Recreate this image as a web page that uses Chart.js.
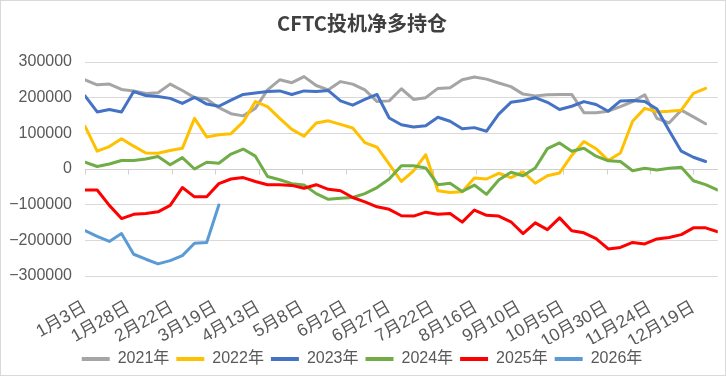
<!DOCTYPE html>
<html>
<head>
<meta charset="utf-8">
<script src="https://cdn.jsdelivr.net/npm/chart.js@4.4.1/dist/chart.umd.min.js"></script>
<style>
html,body{margin:0;padding:0;background:#fff}
#wrap{width:726px;height:376px;box-sizing:border-box;border:1px solid #d9d9d9}
canvas{display:block}
</style>
</head>
<body>
<div id="wrap"><canvas id="c" width="724" height="374"></canvas></div>
<script>
// weekly net long positions, week index 0 = Jan 3
const tickLabels = ["1月3日","1月28日","2月22日","3月19日","4月13日","5月8日","6月2日","6月27日","7月22日","8月16日","9月10日","10月5日","10月30日","11月24日","12月19日"];
const TICK_DAYS = 25;
const seriesNames = ["2021年","2022年","2023年","2024年","2025年","2026年"];
const seriesColors = ["#a5a5a5","#ffc000","#4472c4","#70ad47","#ff0000","#5b9bd5"];

const y2021 = [250000,236000,238000,223000,219000,212000,214000,238000,220000,200000,196000,172000,155000,149000,
  170000,222000,250000,242000,259000,234000,222000,245000,238000,222000,189000,191000,225000,
  195000,200000,226000,228000,250000,258000,252000,241000,231000,210000,205000,208000,
  209000,209000,158000,158000,162000,175000,189000,208000,142000,129000,165000,146000,127000];
const y2022 = [120000,50000,63000,85000,64000,45000,44000,52000,58000,142000,90000,96000,99000,132000,
  189000,175000,142000,111000,92000,129000,135000,125000,115000,74000,61000,14000,-35000,
  -5000,40000,-61000,-66000,-64000,-25000,-28000,-12000,-24000,-8000,-40000,-19000,
  -11000,38000,77000,57000,24000,45000,134000,170000,160000,162000,165000,212000,226000];
const y2023 = [205000,160000,167000,160000,217000,206000,203000,198000,184000,201000,182000,176000,193000,209000,
  213000,217000,219000,209000,219000,217000,220000,191000,179000,195000,209000,143000,124000,
  118000,121000,145000,134000,113000,116000,106000,154000,187000,192000,200000,187000,
  167000,176000,189000,181000,162000,191000,192000,189000,168000,108000,50000,33000,21000];
const y2024 = [19000,7000,14000,24000,24000,28000,35000,12000,32000,0,19000,16000,42000,56000,
  36000,-21000,-30000,-41000,-45000,-69000,-85000,-82000,-80000,-69000,-52000,-28000,9000,
  9000,3000,-44000,-40000,-63000,-45000,-71000,-31000,-9000,-19000,3000,57000,
  73000,50000,58000,36000,23000,21000,-5000,2000,-3000,2000,5000,-33000,-44000,-59000];
const y2025 = [-59000,-59000,-102000,-139000,-127000,-125000,-120000,-102000,-52000,-78000,-78000,-41000,-28000,-24000,
  -35000,-44000,-44000,-46000,-54000,-44000,-57000,-61000,-80000,-92000,-106000,-113000,-131000,
  -132000,-121000,-127000,-125000,-149000,-115000,-130000,-132000,-148000,-181000,-151000,-170000,
  -137000,-173000,-179000,-195000,-224000,-220000,-206000,-210000,-196000,-192000,-184000,-165000,-165000,-176000];
const y2026 = [-173000,-189000,-203000,-181000,-239000,-253000,-266000,-257000,-243000,-208000,-206000,-101000];

const allSeries = [y2021,y2022,y2023,y2024,y2025,y2026];
const FONT = '"Liberation Sans", "Noto Sans CJK SC", sans-serif';

const zeroAxis = {
  id:"zeroAxis",
  beforeDatasetsDraw(chart){
    const {ctx, chartArea:a, scales:{x,y}} = chart;
    const y0 = Math.round(y.getPixelForValue(0))+0.5;
    ctx.save(); ctx.strokeStyle="#cfcfcf"; ctx.lineWidth=1; ctx.beginPath();
    ctx.moveTo(a.left,y0); ctx.lineTo(a.right,y0);
    x.ticks.forEach(t=>{const px=Math.round(x.getPixelForValue(t.value))+0.5; ctx.moveTo(px,y0); ctx.lineTo(px,y0+5);});
    ctx.stroke(); ctx.restore();
  }
};

new Chart(document.getElementById("c"), {
  type:"line",
  data:{ datasets: allSeries.map((s,k)=>({
    label: seriesNames[k], data: s.map((v,i)=>({x:i,y:v})),
    borderColor: seriesColors[k], backgroundColor: seriesColors[k],
    borderWidth:3, pointRadius:0, tension:0, fill:false,
    borderJoinStyle:"round", borderCapStyle:"round", order: allSeries.length-k
  }))},
  options:{
    responsive:false, animation:false,
    layout:{padding:{left:0,right:2,top:0,bottom:-2}},
    plugins:{
      tooltip:{enabled:false},
      title:{display:true, text:"CFTC投机净多持仓", color:"#404040",
        font:{size:20, weight:"bold", family:'"Noto Sans CJK SC", sans-serif'}, padding:{top:10,bottom:27}},
      legend:{position:"bottom",
        labels:{boxWidth:28, boxHeight:4, padding:7, color:"#595959", font:{size:16, family:FONT},
          sort:(a,b)=>a.datasetIndex-b.datasetIndex,
          generateLabels: ch => Chart.defaults.plugins.legend.labels.generateLabels(ch)
            .map(l=>({...l, fillStyle:l.strokeStyle, lineWidth:0}))}}
    },
    scales:{
      x:{type:"linear", min:0, max:52,
        afterBuildTicks: ax => { ax.ticks = tickLabels.map((t,k)=>({value:k*TICK_DAYS/7})); },
        afterFit: ax => { ax.height = 68; },
        grid:{display:false, drawTicks:false}, border:{display:false},
        ticks:{autoSkip:false, minRotation:30, maxRotation:30, padding:21, color:"#595959",
          font:{size:17.5, family:FONT}, callback:(v,i)=>tickLabels[i]}},
      y:{min:-300000, max:300000,
        afterFit: ax => { ax.width = 84; },
        grid:{color:"#d9d9d9", drawTicks:false}, border:{display:false},
        ticks:{stepSize:100000, padding:13, color:"#595959", font:{size:16, family:FONT},
          callback: v => v<0 ? "−"+Math.abs(v) : String(v)}}
    }
  },
  plugins:[zeroAxis]
});
</script>
</body>
</html>
